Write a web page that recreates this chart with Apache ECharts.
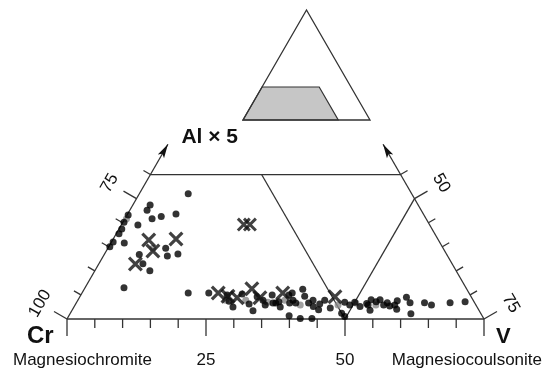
<!DOCTYPE html>
<html>
<head>
<meta charset="utf-8">
<script src="https://cdn.jsdelivr.net/npm/echarts@6/dist/echarts.min.js"></script>
<style>
  html, body { margin: 0; padding: 0; background: #fff; }
  #main { width: 546px; height: 368px; }
</style>
</head>
<body>
<div id="main"></div>
<script>
// compositions as [V, Al×5] in %, Cr = 100 - V - Al×5
const dots = [
  [8.8, 26.0], [3.1, 23.7], [3.1, 22.6], [4.9, 20.8], [6.3, 21.3], [8.7, 21.8], [3.0, 19.5],
  [2.4, 15.8], [6.3, 13.4], [7.9, 11.5], [9.9, 10.0], [10.4, 14.7], [11.5, 13.1], [13.2, 13.5],
  [7.0, 6.5], [19.1, 5.4],
  [0.2, 21.6], [0.2, 20.1], [0.5, 18.7], [0.5, 17.7], [0.3, 16.0], [0.2, 15.0],
  [22.8, 5.4], [26.3, 5.0], [27.3, 3.7], [28.6, 2.5], [28.9, 5.2], [31.2, 3.1], [32.6, 1.7],
  [31.9, 4.6], [33.3, 3.9], [34.2, 2.9], [34.4, 5.0], [35.9, 3.3], [37.1, 2.5], [35.4, 3.3],
  [36.3, 3.6], [37.4, 5.0], [38.4, 3.3], [37.8, 5.4], [38.7, 3.9], [39.5, 3.3], [39.6, 0.7],
  [41.9, 0.1], [44.0, 0.1], [39.3, 6.2], [40.4, 4.7], [41.8, 3.3], [42.3, 3.9], [43.0, 2.6],
  [44.3, 1.9], [43.9, 3.1], [44.4, 3.9], [46.2, 2.3], [48.8, 1.2], [49.7, 0.5], [48.2, 3.5],
  [49.4, 2.9], [50.0, 3.5], [51.4, 2.6], [52.3, 3.2], [52.7, 2.9], [52.7, 4.0], [53.6, 1.8],
  [53.8, 3.6], [54.3, 4.0], [55.5, 2.9], [55.9, 3.4], [56.7, 2.7], [57.5, 2.9], [57.5, 3.8],
  [58.3, 2.0], [58.8, 4.5], [60.0, 3.4], [61.3, 1.1], [62.6, 3.4], [64.1, 2.9], [67.2, 3.4],
  [69.8, 3.6]
];
const grayDots = [
  [0.3, 20.8], [8.1, 14.7], [26.6, 3.9], [30.2, 3.9], [34.4, 3.5], [37.2, 3.9],
  [40.5, 2.9], [47.3, 2.9], [50.3, 3.3], [54.1, 2.9]
];
const crosses = [
  [6.5, 16.4], [11.3, 16.6], [8.4, 14.1], [6.6, 11.4],
  [24.5, 5.4], [26.6, 4.7], [28.4, 4.4], [30.1, 6.3], [32.5, 4.4], [36.1, 5.4], [45.9, 4.6]
];
const pairCrosses = [[22.0, 19.6], [23.1, 19.6]];

// scales
const baseTicks = [0, 5, 10, 15, 20, 25, 30, 35, 40, 45, 50, 55, 60, 65, 70, 75];
const edgeTicks = [0, 5, 10, 15, 20, 25, 30];
const baseLabels = [25, 50];
const edgeLabelAl = [0, 25];

const INK = '#333';
const FONT = '"Liberation Sans", Arial, sans-serif';
const SQ3 = Math.sqrt(3) / 2;
function tern(v, al) { return [v + al / 2, al * SQ3]; }

// Cr corner sits at pixel (67, 319); 75 % V spans 417 px
const PX = 417 / 75;
const X0 = 67, Y0 = 319, W = 546, H = 368;
const ARROW_AL = 36.3;
// inset triangle: lower-left corner and scale (data units)
const INSET_X = (243 - X0) / PX, INSET_Y = (Y0 - 120) / PX, INSET_S = 127 / (PX * 100);

function frame(params, api) {
  const P = (v, al) => api.coord(tern(v, al));
  const out = [];
  const seg = (a, b) => out.push({ type: 'line', shape: { x1: a[0], y1: a[1], x2: b[0], y2: b[1] },
    style: { stroke: INK, lineWidth: 1.3 } });
  const tick = (p, n, len) => seg(p, [p[0] + n[0] * len, p[1] + n[1] * len]);
  const txt = (p, s, size, rot, align, bold) => out.push({ type: 'text', x: p[0], y: p[1], rotation: rot || 0,
    style: { text: s, font: (bold ? 'bold ' : '') + size + 'px ' + FONT, fill: '#111',
      align: align || 'center', verticalAlign: 'middle', textAlign: align || 'center', textVerticalAlign: 'middle' } });
  const arrow = (tip, d) => {
    const L = 14, w = 3.6, nt = 3, n = [-d[1], d[0]];
    const b = [tip[0] - d[0] * L, tip[1] - d[1] * L];
    out.push({ type: 'polygon', shape: { points: [tip, [b[0] + n[0] * w, b[1] + n[1] * w],
      [tip[0] - d[0] * (L - nt), tip[1] - d[1] * (L - nt)], [b[0] - n[0] * w, b[1] - n[1] * w]] },
      style: { fill: '#111' } });
  };
  const leftOut = [-SQ3, -0.5], rightOut = [SQ3, -0.5], down = [0, 1];

  // frame of the truncated field
  seg(P(0, 0), P(75, 0));
  seg(P(0, 30), P(45, 30));
  seg(P(0, 0), P(0, ARROW_AL));
  seg(P(75, 0), P(75 - ARROW_AL, ARROW_AL));
  arrow(P(0, ARROW_AL), [0.5, -SQ3]);
  arrow(P(75 - ARROW_AL, ARROW_AL), [-0.5, -SQ3]);
  // field boundaries Cr = 50 and V = 50
  seg(P(50, 0), P(20, 30));
  seg(P(50, 0), P(50, 25));

  baseTicks.forEach(v => tick(P(v, 0), down, v % 25 === 0 ? 17 : 9));
  edgeTicks.forEach(al => {
    const major = edgeLabelAl.indexOf(al) >= 0;
    tick(P(0, al), leftOut, major ? 15 : 8);
    tick(P(75 - al, al), rightOut, major ? 15 : 8);
  });
  baseLabels.forEach(v => { const p = P(v, 0); txt([p[0], p[1] + 41], String(v), 17); });
  edgeLabelAl.forEach(al => {
    const a = P(0, al), b = P(75 - al, al);
    txt([a[0] + leftOut[0] * 31, a[1] + leftOut[1] * 31], String(100 - al), 17, Math.PI / 3);
    txt([b[0] + rightOut[0] * 31, b[1] + rightOut[1] * 31], String(75 - al), 17, -Math.PI / 3);
  });

  const c = P(0, 0), vv = P(75, 0), t = P(0, 30);
  txt([c[0] - 40, c[1] + 17], 'Cr', 24, 0, 'left', true);
  txt([vv[0] + 12, vv[1] + 18], 'V', 22, 0, 'left', true);
  txt([c[0] - 54, c[1] + 41], 'Magnesiochromite', 17, 0, 'left');
  txt([vv[0] + 58, vv[1] + 41], 'Magnesiocoulsonite', 17, 0, 'right');
  txt([t[0] + 31, t[1] - 37], 'Al × 5', 21, 0, 'left', true);

  // inset: whole triangle with the plotted field shaded
  const Q = (v, al) => api.coord([INSET_X + INSET_S * (v + al / 2), INSET_Y + INSET_S * al * SQ3]);
  out.push({ type: 'polygon', shape: { points: [Q(0, 0), Q(75, 0), Q(45, 30), Q(0, 30)] },
    style: { fill: '#c6c6c6', stroke: INK, lineWidth: 1.2 } });
  out.push({ type: 'polygon', shape: { points: [Q(0, 0), Q(100, 0), Q(0, 100)] },
    style: { fill: 'none', stroke: INK, lineWidth: 1.3 } });
  return { type: 'group', children: out };
}

const XMARK = 'path://M0,1.5L1.5,0L10,8.5L8.5,10ZM8.5,0L10,1.5L1.5,10L0,8.5Z';

const chart = echarts.init(document.getElementById('main'));
chart.setOption({
  animation: false,
  backgroundColor: '#fff',
  grid: { left: 0, right: 0, top: 0, bottom: 0 },
  xAxis: { type: 'value', min: -X0 / PX, max: (W - X0) / PX, show: false },
  yAxis: { type: 'value', min: -(H - Y0) / PX, max: Y0 / PX, show: false },
  series: [
    { type: 'custom', renderItem: frame, data: [[0, 0]], clip: false, silent: true, z: 1 },
    { type: 'scatter', data: grayDots.map(d => tern(d[0], d[1])), symbolSize: 7,
      itemStyle: { color: '#888' }, z: 2, silent: true },
    { type: 'scatter', data: dots.map(d => tern(d[0], d[1])), symbolSize: 7,
      itemStyle: { color: '#000' }, z: 3, silent: true },
    { type: 'scatter', data: crosses.map(d => tern(d[0], d[1])), symbol: XMARK, symbolSize: 15,
      itemStyle: { color: '#111' }, z: 4, silent: true },
    { type: 'scatter', data: pairCrosses.map(d => tern(d[0], d[1])), symbol: XMARK, symbolSize: 14,
      itemStyle: { color: '#111' }, z: 4, silent: true }
  ]
});
</script>
</body>
</html>
